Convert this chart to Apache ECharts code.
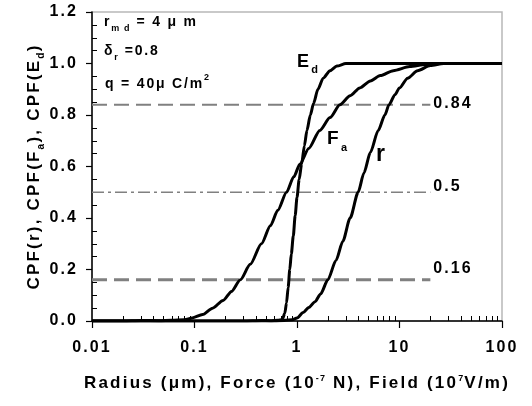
<!DOCTYPE html>
<html>
<head>
<meta charset="utf-8">
<script src="https://cdn.jsdelivr.net/npm/echarts@6/dist/echarts.min.js"></script>
<style>html,body{margin:0;padding:0;background:#fff}#c{width:532px;height:406px}</style>
</head>
<body>
<div id="c"></div>
<script>
// ---- data ----
const rData = [[0.01,0],[0.3,0],[0.6,0],[0.75,0.002],[0.9,0.005],[1.0,0.012],[1.15,0.033],[1.3,0.052],[1.5,0.075],[1.7,0.105],[2.0,0.16],[2.4,0.235],[2.8,0.31],[3.3,0.4],[3.95,0.5],[4.5,0.575],[5.2,0.655],[6.2,0.74],[7.2,0.8],[7.9,0.84],[9.0,0.878],[10,0.905],[12,0.943],[15,0.972],[20,0.992],[27,1.0],[100,1.0]];
const faData = [[0.01,0],[0.02,0],[0.03,0.002],[0.045,0.001],[0.06,0.003],[0.08,0.005],[0.095,0.012],[0.12,0.025],[0.15,0.05],[0.19,0.08],[0.23,0.115],[0.28,0.16],[0.35,0.22],[0.45,0.3],[0.55,0.37],[0.65,0.43],[0.79,0.5],[0.93,0.56],[1.07,0.61],[1.3,0.67],[1.67,0.74],[2.1,0.79],[2.62,0.84],[3.3,0.875],[4.1,0.905],[5.2,0.932],[6.5,0.953],[8.7,0.972],[12.6,0.988],[18,0.996],[25,1.0],[100,1.0]];
const edData = [[0.01,0],[0.3,0],[0.45,0.002],[0.55,0.001],[0.65,0.003],[0.72,0.006],[0.76,0.03],[0.79,0.07],[0.82,0.13],[0.85,0.2],[0.88,0.26],[0.92,0.33],[0.96,0.41],[1.0,0.48],[1.05,0.55],[1.11,0.61],[1.18,0.68],[1.25,0.74],[1.35,0.8],[1.45,0.845],[1.6,0.9],[1.8,0.943],[2.1,0.972],[2.45,0.99],[3.0,1.0],[100,1.0]];
const refLevels = [0.84, 0.5, 0.16];
const refLabels = ['0.84', '0.5', '0.16'];
const refStart = 0.01, refEnd = 20;
const xMin = 0.01, xMax = 100;
const yMin = 0, yMax = 1.2, yStep = 0.2;
const yMinorTicks = [0.05,0.1,0.15,0.25,0.3,0.35,0.45,0.5,0.55,0.65,0.7,0.75,0.85,0.9,0.95,1.05,1.1,1.15];
const xMinorTicks = [0.02,0.03,0.04,0.05,0.06,0.07,0.08,0.09,0.2,0.3,0.4,0.5,0.6,0.7,0.8,0.9,2,3,4,5,6,7,8,9,20,30,40,50,60,70,80,90];

// ---- widen letter spacing like the reference rendering ----
(function(){
  const P = CanvasRenderingContext2D.prototype;
  function setLS(ctx){
    const m = /(\d+(?:\.\d+)?)px/.exec(ctx.font || '');
    const fs = m ? parseFloat(m[1]) : 12;
    try { ctx.letterSpacing = (fs * 0.13).toFixed(2) + 'px'; } catch(e) {}
  }
  ['fillText','strokeText','measureText'].forEach(function(k){
    const o = P[k];
    P[k] = function(){ setLS(this); return o.apply(this, arguments); };
  });
})();

const FONT = 'Liberation Sans, Arial, sans-serif';
const chart = echarts.init(document.getElementById('c'), null, {renderer:'canvas'});

const curveStyle = {color:'#000', width:3};
function curve(name, data){
  return {name:name, type:'line', data:data, showSymbol:false, symbol:'none',
    smooth:0.25, smoothMonotone:'x', lineStyle:curveStyle, z:5, silent:true};
}
const refTypes = [[15,7],[12,4,3,4],[15,7]];
const refWidths = [2,1.5,3];
const refOffsets = [[0,-1],[0,-6],[0,-11]];
const refSeries = refLevels.map(function(v,i){
  return {type:'line', symbol:'none', silent:true, z:3,
    lineStyle:{color:'#808080', width:refWidths[i], type:refTypes[i]},
    data:[[refStart,v],[refEnd,v]],
    endLabel:{show:true, formatter:refLabels[i], distance:3, offset:refOffsets[i],
      color:'#000', fontWeight:'bold', fontSize:16, fontFamily:FONT}
  };
});

chart.setOption({
  animation:false,
  backgroundColor:'#fff',
  grid:{left:92, right:30, top:12, bottom:85, show:true, borderColor:'#b8b8b8', borderWidth:1.5},
  xAxis:[{
    type:'log', min:xMin, max:xMax, logBase:10,
    name:'{n|Radius (μm), Force (10}{s|-7}{n| N), Field (10}{s|7}{n|V/m)}',
    nameLocation:'middle', nameGap:52,
    nameTextStyle:{rich:{
      n:{fontSize:17, fontWeight:'bold', fontFamily:FONT, color:'#000', verticalAlign:'bottom', lineHeight:20},
      s:{fontSize:9, fontWeight:'bold', fontFamily:FONT, color:'#000', verticalAlign:'top', lineHeight:20}}},
    axisLine:{show:true, lineStyle:{color:'#000', width:1.5}},
    axisTick:{show:true, inside:false, length:7, lineStyle:{color:'#000', width:1.2}},
    axisLabel:{show:true, margin:18, fontSize:16, fontWeight:'bold', fontFamily:FONT, color:'#000',
      formatter:function(v){ return String(v); }},
    splitLine:{show:false}, minorTick:{show:false}
  },{
    type:'log', min:xMin, max:xMax, logBase:10, position:'bottom', gridIndex:0,
    axisLine:{show:false},
    axisTick:{show:true, inside:true, length:5, customValues:xMinorTicks, lineStyle:{color:'#000', width:1}},
    axisLabel:{show:false}, splitLine:{show:false}
  }],
  yAxis:[{
    type:'value', min:yMin, max:yMax, interval:yStep,
    name:'{n|CPF(r), CPF(F}{b|a}{n|), CPF(E}{b|d}{n|)}',
    nameLocation:'middle', nameGap:45, nameRotate:90, nameMoveOverlap:false,
    nameTextStyle:{rich:{
      n:{fontSize:17, fontWeight:'bold', fontFamily:FONT, color:'#000', verticalAlign:'top', lineHeight:22},
      b:{fontSize:10, fontWeight:'bold', fontFamily:FONT, color:'#000', verticalAlign:'bottom', lineHeight:22}}},
    axisLine:{show:true, lineStyle:{color:'#000', width:1.5}},
    axisTick:{show:true, inside:false, length:6, lineStyle:{color:'#000', width:1.2}},
    axisLabel:{show:true, margin:14, fontSize:16, fontWeight:'bold', fontFamily:FONT, color:'#000',
      formatter:function(v){ return v.toFixed(1); }},
    splitLine:{show:false}
  },{
    type:'value', min:yMin, max:yMax, interval:yStep, position:'left', gridIndex:0,
    axisLine:{show:false},
    axisTick:{show:true, inside:true, length:5, customValues:yMinorTicks, lineStyle:{color:'#000', width:1}},
    axisLabel:{show:false}, splitLine:{show:false}
  }],
  series: refSeries.concat([curve('r', rData), curve('Fa', faData), curve('Ed', edData)]),
  graphic:[
    {type:'text', left:104, top:14, style:{text:'{n|r}{s|m d}{n| = 4 μ m}', rich:{
      n:{fontSize:14, fontWeight:'bold', fontFamily:FONT, fill:'#000', verticalAlign:'top', lineHeight:17},
      s:{fontSize:9, fontWeight:'bold', fontFamily:FONT, fill:'#000', verticalAlign:'bottom', lineHeight:20}}}},
    {type:'text', left:104, top:43, style:{text:'{n|δ}{s|r}{n| =0.8}', rich:{
      n:{fontSize:14, fontWeight:'bold', fontFamily:FONT, fill:'#000', verticalAlign:'top', lineHeight:17},
      s:{fontSize:9, fontWeight:'bold', fontFamily:FONT, fill:'#000', verticalAlign:'bottom', lineHeight:20}}}},
    {type:'text', left:105, top:72, style:{text:'{n|q = 40μ C/m}{p|2}', rich:{
      n:{fontSize:14, fontWeight:'bold', fontFamily:FONT, fill:'#000', verticalAlign:'bottom', lineHeight:20},
      p:{fontSize:9, fontWeight:'bold', fontFamily:FONT, fill:'#000', verticalAlign:'top', lineHeight:20}}}},
    {type:'text', left:297, top:52, style:{text:'{n|E}{s|d}', rich:{
      n:{fontSize:18, fontWeight:'bold', fontFamily:FONT, fill:'#000', verticalAlign:'top', lineHeight:18},
      s:{fontSize:11, fontWeight:'bold', fontFamily:FONT, fill:'#000', verticalAlign:'bottom', lineHeight:24}}}},
    {type:'text', left:327, top:128, style:{text:'{n|F}{s|a}', rich:{
      n:{fontSize:19, fontWeight:'bold', fontFamily:FONT, fill:'#000', verticalAlign:'top', lineHeight:19},
      s:{fontSize:11, fontWeight:'bold', fontFamily:FONT, fill:'#000', verticalAlign:'bottom', lineHeight:26}}}},
    {type:'text', left:376, top:142, style:{text:'r', fontSize:23, fontWeight:'bold', fontFamily:FONT, fill:'#000'}}
  ]
});
</script>
</body>
</html>
